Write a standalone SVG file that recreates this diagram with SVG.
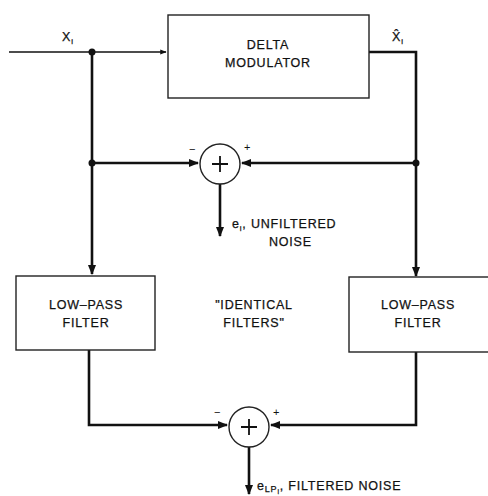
<svg xmlns="http://www.w3.org/2000/svg" width="488" height="496" viewBox="0 0 488 496">
<defs>
<marker id="arr" viewBox="0 0 10 10" refX="9" refY="5" markerWidth="4" markerHeight="4" orient="auto-start-reverse" markerUnits="strokeWidth"><path d="M0,1 L10,5 L0,9 z" fill="#111"/></marker>
</defs>
<style>
.box{fill:#fff;stroke:#222;stroke-width:1.4}
.ln{fill:none;stroke:#111;stroke-width:2.6;stroke-linejoin:miter}
.thin{fill:none;stroke:#111;stroke-width:1.6}
.t{font-family:"Liberation Sans",Arial,sans-serif;font-size:12.5px;fill:#111;stroke:#111;stroke-width:0.25;letter-spacing:0.8px}
.c{text-anchor:middle}
.s{font-family:"Liberation Sans",Arial,sans-serif;font-size:11px;fill:#111}
.dot{fill:#111}
</style>
<rect width="488" height="496" fill="#fff"/>
<g id="connectors">
<path class="thin" d="M9,52 H166" marker-end="url(#arr)"/>
<path class="ln" d="M369,52 H416 V163"/>
<path class="ln" d="M92,52 V163 H198" marker-end="url(#arr)"/>
<path class="ln" d="M416,163 H242" marker-end="url(#arr)"/>
<path class="ln" d="M220,184 V236" marker-end="url(#arr)"/>
<path class="ln" d="M92,163 V274" marker-end="url(#arr)"/>
<path class="ln" d="M416,163 V276" marker-end="url(#arr)"/>
<path class="ln" d="M89,350 V425 H227" marker-end="url(#arr)"/>
<path class="ln" d="M416,352 V425 H271" marker-end="url(#arr)"/>
<path class="ln" d="M249,447 V494" marker-end="url(#arr)"/>
<circle class="dot" cx="92" cy="52" r="3.5"/>
<circle class="dot" cx="92" cy="163" r="3.5"/>
<circle class="dot" cx="416" cy="163" r="3.5"/>
</g>
<g id="delta">
<rect class="box" x="168" y="15" width="201" height="83"/>
<text class="t c" x="268" y="49">DELTA</text>
<text class="t c" x="268" y="67">MODULATOR</text>
</g>
<g id="sum1">
<circle cx="220" cy="164" r="20" fill="#fff" stroke="#222" stroke-width="1.4"/>
<path d="M212,164 H228 M220,156 V172" stroke="#111" stroke-width="1.8"/>
<text class="s" x="189" y="153">−</text>
<text class="s" x="244" y="151">+</text>
</g>
<g id="lpf1">
<rect class="box" x="16" y="276" width="139" height="74"/>
<text class="t c" x="86" y="309">LOW–PASS</text>
<text class="t c" x="86" y="327">FILTER</text>
</g>
<g id="lpf2">
<rect class="box" x="349" y="277" width="141" height="75"/>
<text class="t c" x="418" y="309">LOW–PASS</text>
<text class="t c" x="418" y="327">FILTER</text>
</g>
<g id="sum2">
<circle cx="249" cy="427" r="20" fill="#fff" stroke="#222" stroke-width="1.4"/>
<path d="M241,427 H257 M249,419 V435" stroke="#111" stroke-width="1.8"/>
<text class="s" x="214" y="416">−</text>
<text class="s" x="273" y="416">+</text>
</g>
<g id="labels">
<text class="t" x="62" y="41">X<tspan font-size="8" dy="3">i</tspan></text>
<text class="t" x="392" y="41">X̂<tspan font-size="8" dy="3">i</tspan></text>
<text class="t" x="232" y="228">e<tspan font-size="8" dy="3">i</tspan><tspan dy="-3">, UNFILTERED</tspan></text>
<text class="t" x="269" y="246">NOISE</text>
<text class="t c" x="254" y="309">"IDENTICAL</text>
<text class="t c" x="254" y="327">FILTERS"</text>
<text class="t" x="257" y="490">e<tspan font-size="9" dy="2">LP</tspan><tspan font-size="7" dy="2">i</tspan><tspan dy="-4">, FILTERED NOISE</tspan></text>
</g>
</svg>
